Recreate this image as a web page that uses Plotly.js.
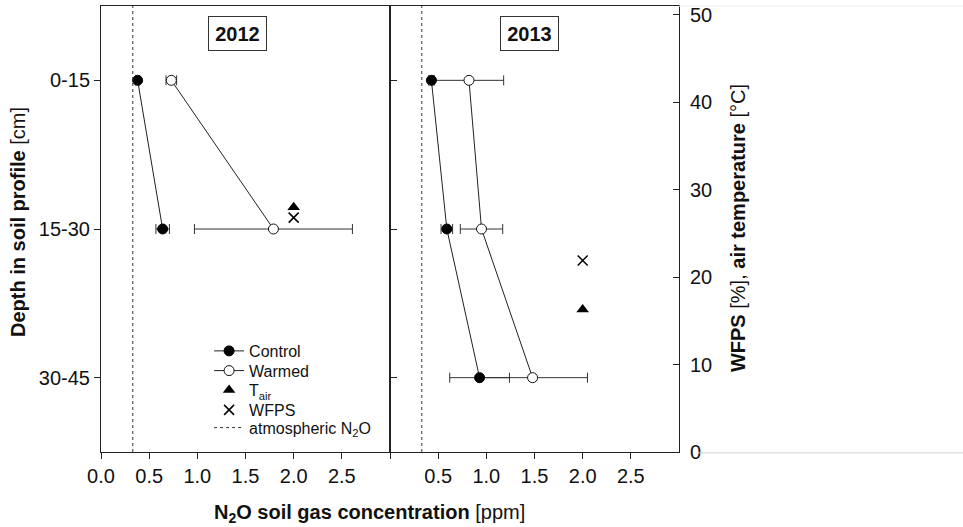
<!DOCTYPE html>
<html>
<head>
<meta charset="utf-8">
<script src="https://cdn.plot.ly/plotly-3.0.1.min.js"></script>
<style>
  html, body { margin: 0; padding: 0; background: #fff; }
  #chart { width: 963px; height: 527px; }
</style>
</head>
<body>
<div id="chart"></div>
<script>
// Soil depth classes (left axis, categorical)
const depths = ['0-15', '15-30', '30-45'];

// 2012 N2O soil gas concentration [ppm] with standard errors
const depths2012 = ['0-15', '15-30'];
const control2012 = [0.38, 0.64];
const control2012Err = [0.02, 0.07];
const warmed2012 = [0.73, 1.79];
const warmed2012Err = [0.055, 0.82];

// 2013 N2O soil gas concentration [ppm] with standard errors
const depths2013 = ['0-15', '15-30', '30-45'];
const control2013 = [0.43, 0.59, 0.93];
const control2013Err = [0.03, 0.06, 0.31];
const warmed2013 = [0.82, 0.95, 1.48];
const warmed2013Err = [0.36, 0.22, 0.57];

// Air temperature [°C] and WFPS [%] for each campaign (right axis)
const tair2012 = [28.0];
const wfps2012 = [26.8];
const tair2013 = [16.3];
const wfps2013 = [21.9];

// Atmospheric N2O background [ppm]
const atmN2O = 0.33;

// Axis ticks
const xTickVals2012 = [0, 0.5, 1.0, 1.5, 2.0, 2.5];
const xTickText2012 = ['0.0', '0.5', '1.0', '1.5', '2.0', '2.5'];
const xTickVals2013 = [0.5, 1.0, 1.5, 2.0, 2.5];
const xTickText2013 = ['0.5', '1.0', '1.5', '2.0', '2.5'];
const rightTickVals = [0, 10, 20, 30, 40, 50];

// Layout constants
const X_RANGE = [0, 3.0];
const RIGHT_RANGE = [0, 51];
const CLIMATE_X = 2.0;   // column where the climate markers sit

const FONT = '"Liberation Sans", Arial, sans-serif';
const INK = '#111';

function rep(v, n) { return Array.from({length: n}, () => v); }

const lineStyle = {color: '#222', width: 1};
const errStyle = (arr) => ({type: 'data', array: arr, visible: true, color: '#333', thickness: 1, width: 5});

const controlMarker = {symbol: 'circle', size: 10, color: '#000', line: {color: '#000', width: 1}};
const warmedMarker = {symbol: 'circle', size: 10, color: '#fff', line: {color: '#111', width: 1}};
const tairMarker = {symbol: 'triangle-up', size: 11, color: '#000'};
const wfpsMarker = {symbol: 'x-thin', size: 10, color: '#000', line: {color: '#000', width: 1.5}};
const atmLine = {color: '#333', width: 1, dash: '3px,3px'};

const traces = [];

// 2012 panel
traces.push({
  type: 'scatter', mode: 'lines+markers', name: 'Warmed', legend: 'legend2',
  x: warmed2012, y: depths2012, xaxis: 'x', yaxis: 'y',
  line: lineStyle, error_x: errStyle(warmed2012Err), marker: warmedMarker
});
traces.push({
  type: 'scatter', mode: 'lines+markers', name: 'Control', legend: 'legend',
  x: control2012, y: depths2012, xaxis: 'x', yaxis: 'y',
  line: lineStyle, error_x: errStyle(control2012Err), marker: controlMarker
});
traces.push({
  type: 'scatter', mode: 'markers', name: 'T<sub>air</sub>', legend: 'legend3',
  x: rep(CLIMATE_X, tair2012.length), y: tair2012, xaxis: 'x', yaxis: 'y2',
  marker: tairMarker
});
traces.push({
  type: 'scatter', mode: 'markers', name: 'WFPS', legend: 'legend4',
  x: rep(CLIMATE_X, wfps2012.length), y: wfps2012, xaxis: 'x', yaxis: 'y2',
  marker: wfpsMarker
});
traces.push({
  type: 'scatter', mode: 'lines', name: 'atmospheric N<sub>2</sub>O', legend: 'legend5',
  x: [atmN2O, atmN2O], y: RIGHT_RANGE, xaxis: 'x', yaxis: 'y2',
  line: atmLine
});

// 2013 panel
traces.push({
  type: 'scatter', mode: 'lines+markers', name: 'Warmed', showlegend: false,
  x: warmed2013, y: depths2013, xaxis: 'x2', yaxis: 'y',
  line: lineStyle, error_x: errStyle(warmed2013Err), marker: warmedMarker
});
traces.push({
  type: 'scatter', mode: 'lines+markers', name: 'Control', showlegend: false,
  x: control2013, y: depths2013, xaxis: 'x2', yaxis: 'y',
  line: lineStyle, error_x: errStyle(control2013Err), marker: controlMarker
});
traces.push({
  type: 'scatter', mode: 'markers', name: 'T<sub>air</sub>', showlegend: false,
  x: rep(CLIMATE_X, tair2013.length), y: tair2013, xaxis: 'x2', yaxis: 'y2',
  marker: tairMarker
});
traces.push({
  type: 'scatter', mode: 'markers', name: 'WFPS', showlegend: false,
  x: rep(CLIMATE_X, wfps2013.length), y: wfps2013, xaxis: 'x2', yaxis: 'y2',
  marker: wfpsMarker
});
traces.push({
  type: 'scatter', mode: 'lines', name: 'atmospheric N<sub>2</sub>O', showlegend: false,
  x: [atmN2O, atmN2O], y: RIGHT_RANGE, xaxis: 'x2', yaxis: 'y2',
  line: atmLine
});

const xCommon = {
  range: X_RANGE, showgrid: false, zeroline: false,
  showline: true, linecolor: '#222', linewidth: 1, mirror: true,
  ticks: 'outside', ticklen: 6, tickcolor: '#222', tickwidth: 1,
  tickmode: 'array',
  tickfont: {family: FONT, size: 20, color: INK}
};

// One legend box per row so the rows sit at a compact spacing
function legendRow(yPaper) {
  return {
    x: 0.187, y: yPaper, xanchor: 'left', yanchor: 'middle',
    bgcolor: 'rgba(0,0,0,0)', borderwidth: 0,
    font: {family: FONT, size: 16, color: INK}
  };
}

const layout = {
  width: 963, height: 527,
  margin: {l: 101, r: 284, t: 6, b: 75, pad: 0},
  paper_bgcolor: '#fff', plot_bgcolor: 'rgba(0,0,0,0)',
  font: {family: FONT, color: INK},
  showlegend: true,
  legend: legendRow(0.2265),
  legend2: legendRow(0.1823),
  legend3: legendRow(0.139),
  legend4: legendRow(0.0942),
  legend5: legendRow(0.0545),
  xaxis: Object.assign({}, xCommon, {
    domain: [0, 0.5], anchor: 'y', tickvals: xTickVals2012, ticktext: xTickText2012
  }),
  xaxis2: Object.assign({}, xCommon, {
    domain: [0.5, 1], anchor: 'y', tickvals: xTickVals2013, ticktext: xTickText2013,
    minor: {tickmode: 'array', tickvals: [X_RANGE[0]], ticks: 'outside', ticklen: 6, tickcolor: '#222', showgrid: false}
  }),
  yaxis: {
    type: 'category', categoryorder: 'array', categoryarray: depths,
    range: [2.5, -0.5], showgrid: false, zeroline: false,
    showline: true, linecolor: '#222', linewidth: 1, mirror: 'all',
    ticks: 'outside', ticklen: 6, tickcolor: '#222',
    tickfont: {family: FONT, size: 20, color: INK}, anchor: 'x'
  },
  yaxis2: {
    overlaying: 'y', side: 'right', anchor: 'x2', range: RIGHT_RANGE,
    showgrid: false, zeroline: false,
    showline: true, linecolor: '#222', linewidth: 1,
    ticks: 'inside', ticklen: 6, tickcolor: '#222',
    tickmode: 'array', tickvals: rightTickVals, ticklabelstandoff: 6,
    tickfont: {family: FONT, size: 20, color: INK}
  },
  shapes: [
    {type: 'line', xref: 'paper', yref: 'paper', x0: 1, x1: 1.4983, y0: 1, y1: 1,
     line: {color: '#efefef', width: 1}},
    {type: 'line', xref: 'paper', yref: 'paper', x0: 1.033, x1: 1.4983, y0: -0.002, y1: -0.002,
     line: {color: '#cfcfcf', width: 1}}
  ],
  annotations: [
    {xref: 'x domain', yref: 'paper', x: 0.472, y: 0.939, text: '<b>2012</b>', showarrow: false,
     font: {family: FONT, size: 20, color: INK}, bordercolor: '#333', borderwidth: 1,
     borderpad: 0, width: 57, height: 33, xanchor: 'center', yanchor: 'middle'},
    {xref: 'x2 domain', yref: 'paper', x: 0.484, y: 0.939, text: '<b>2013</b>', showarrow: false,
     font: {family: FONT, size: 20, color: INK}, bordercolor: '#333', borderwidth: 1,
     borderpad: 0, width: 57, height: 33, xanchor: 'center', yanchor: 'middle'},
    {xref: 'paper', yref: 'paper', x: -0.1436, y: 0.5157, textangle: -90, showarrow: false,
     text: '<b>Depth in soil profile</b> [cm]', font: {family: FONT, size: 20, color: INK},
     xanchor: 'center', yanchor: 'middle'},
    {xref: 'paper', yref: 'paper', x: 1.102, y: 0.502, textangle: -90, showarrow: false,
     text: '<b>WFPS</b> [%], <b>air temperature</b> [°C]', font: {family: FONT, size: 20, color: INK},
     xanchor: 'center', yanchor: 'middle'},
    {xref: 'paper', yref: 'paper', x: 0.4637, y: -0.137, showarrow: false,
     text: '<b>N<sub>2</sub>O soil gas concentration</b> [ppm]', font: {family: FONT, size: 20, color: INK},
     xanchor: 'center', yanchor: 'middle'}
  ]
};

Plotly.newPlot('chart', traces, layout, {displayModeBar: false, staticPlot: true});
</script>
</body>
</html>
